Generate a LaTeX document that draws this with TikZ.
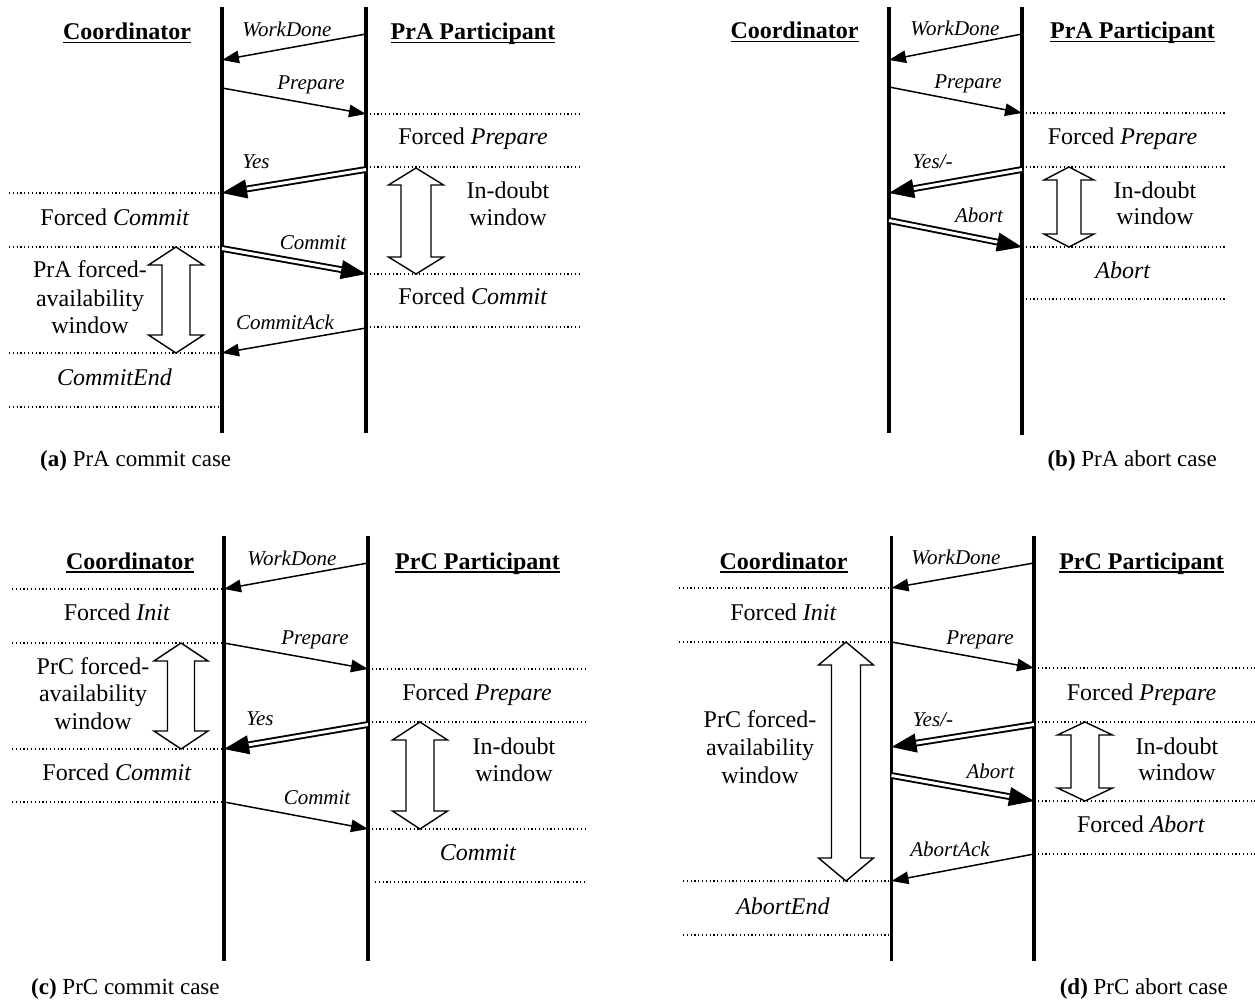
\documentclass[tikz,border=0pt]{standalone}
\usepackage{fontspec}
\setmainfont{Liberation Serif}
\usetikzlibrary{arrows.meta,calc}
\newcommand\hdrul[1]{\setbox0\hbox{#1}\rlap{\rule[-3.5pt]{\wd0}{1.8pt}}\box0}
\newcommand\blockarr[6]{\draw[blk] (#1,#2) -- (#1+#4,#2+#6) -- (#1+#5,#2+#6) -- (#1+#5,#3-#6) -- (#1+#4,#3-#6) -- (#1,#3) -- (#1-#4,#3-#6) -- (#1-#5,#3-#6) -- (#1-#5,#2+#6) -- (#1-#4,#2+#6) -- cycle;}
\newcommand\dmsg[2]{\draw[dline] (#1) -- (#2); \draw[dtip] ($(#2)!24pt!(#1)$) -- (#2);}
\begin{document}
\begin{tikzpicture}[x=1pt,y=-1pt,
  life/.style={line width=3.5pt},
  msg/.style={line width=1.5pt,-{Triangle[length=17pt,width=12.5pt]}},
  dline/.style={double, line width=1.9pt, double distance=3pt, shorten >=16pt},
  dtip/.style={line width=1pt,-{Triangle[length=25pt,width=19pt]}},
  dots/.style={line width=1.2pt, dash pattern=on 1.2pt off 2.6pt},
  blk/.style={line width=1.4pt, fill=white, line join=miter},
  lbl/.style={font=\fontsize{21}{24}\selectfont\itshape, inner sep=0pt, anchor=base},
  txt/.style={font=\fontsize{24}{28}\selectfont, inner sep=0pt, anchor=base},
  hdr/.style={font=\fontsize{24}{28}\selectfont\bfseries, inner sep=0pt, anchor=base},
  captxt/.style={font=\fontsize{23}{26}\selectfont, inner sep=0pt}]
\useasboundingbox[fill=white] (0,0) rectangle (1255,1000);

%%%%%%%%%%%%%%%% (a) PrA commit %%%%%%%%%%%%%%%%
\coordinate (a-ct) at (222,7); \coordinate (a-cb) at (222,433);
\coordinate (a-pt) at (366,7); \coordinate (a-pb) at (366,433);
\draw[life] (a-ct) -- (a-cb);
\draw[life] (a-pt) -- (a-pb);
\node[hdr] (a-hc) at (127,40) {\hdrul{Coordinator}};
\node[hdr] (a-hp) at (473,40) {\hdrul{PrA Participant}};
\draw[dots] (366,114) -- (582,114);
\draw[dots] (366,167) -- (582,167);
\draw[dots] (9,193) -- (222,193);
\draw[dots] (9,247) -- (222,247);
\draw[dots] (366,274) -- (582,274);
\draw[dots] (366,327) -- (582,327);
\draw[dots] (9,353) -- (222,353);
\draw[dots] (9,407) -- (222,407);
\coordinate (a-m1s) at (366,34);   \coordinate (a-m1e) at (222,60);
\coordinate (a-m2s) at (222,88);   \coordinate (a-m2e) at (366,114);
\coordinate (a-m3s) at (366,169.5);\coordinate (a-m3e) at (222,193);
\coordinate (a-m4s) at (222,248.5);\coordinate (a-m4e) at (366,274);
\coordinate (a-m5s) at (366,328);  \coordinate (a-m5e) at (222,353);
\draw[msg] (a-m1s) -- (a-m1e);
\draw[msg] (a-m2s) -- (a-m2e);
\dmsg{a-m3s}{a-m3e}
\dmsg{a-m4s}{a-m4e}
\draw[msg] (a-m5s) -- (a-m5e);
\node[lbl] (a-l1) at (287,37) {WorkDone};
\node[lbl] (a-l2) at (311,90) {Prepare};
\node[lbl] (a-l3) at (256,169) {Yes};
\node[lbl] (a-l4) at (313,250) {Commit};
\node[lbl] (a-l5) at (285,329) {CommitAck};
\node[txt] (a-t1) at (473,145) {Forced \textit{Prepare}};
\node[txt] (a-t2) at (115,226) {Forced \textit{Commit}};
\node[txt] (a-t3) at (473,305) {Forced \textit{Commit}};
\node[txt] (a-t4) at (114.5,385) {\textit{CommitEnd}};
\blockarr{416}{168}{274}{27.5}{15}{17}
\node[txt] (a-d1) at (508,199) {In-doubt};
\node[txt] (a-d2) at (508,226) {window};
\blockarr{176}{247}{353}{27.5}{14}{18}
\node[txt] (a-w1) at (90,278) {PrA forced-};
\node[txt] (a-w2) at (90,306) {availability};
\node[txt] (a-w3) at (90,333) {window};
\node[captxt,anchor=base west] (a-cap) at (40,466) {\textbf{(a)} PrA commit case};

%%%%%%%%%%%%%%%% (b) PrA abort %%%%%%%%%%%%%%%%
\coordinate (b-ct) at (889,7); \coordinate (b-cb) at (889,433);
\coordinate (b-pt) at (1022,7); \coordinate (b-pb) at (1022,435);
\draw[life] (b-ct) -- (b-cb);
\draw[life] (b-pt) -- (b-pb);
\node[hdr] (b-hc) at (794.5,39) {\hdrul{Coordinator}};
\node[hdr] (b-hp) at (1132.5,39) {\hdrul{PrA Participant}};
\draw[dots] (1022,113) -- (1227,113);
\draw[dots] (1022,167) -- (1227,167);
\draw[dots] (1022,247) -- (1227,247);
\draw[dots] (1022,299) -- (1227,299);
\coordinate (b-m1s) at (1022,34);   \coordinate (b-m1e) at (889,60);
\coordinate (b-m2s) at (889,87);    \coordinate (b-m2e) at (1022,113);
\coordinate (b-m3s) at (1022,169.5);\coordinate (b-m3e) at (889,193);
\coordinate (b-m4s) at (889,220.5); \coordinate (b-m4e) at (1022,247);
\draw[msg] (b-m1s) -- (b-m1e);
\draw[msg] (b-m2s) -- (b-m2e);
\dmsg{b-m3s}{b-m3e}
\dmsg{b-m4s}{b-m4e}
\node[lbl] (b-l1) at (955,36) {WorkDone};
\node[lbl] (b-l2) at (968,89) {Prepare};
\node[lbl] (b-l3) at (932.5,169) {Yes/-};
\node[lbl] (b-l4) at (979,223) {Abort};
\node[txt] (b-t1) at (1122.5,145) {Forced \textit{Prepare}};
\node[txt] (b-t2) at (1123,279) {\textit{Abort}};
\blockarr{1069}{167}{247}{25}{12}{13}
\node[txt] (b-d1) at (1155,199) {In-doubt};
\node[txt] (b-d2) at (1155,225) {window};
\node[captxt,anchor=base east] (b-cap) at (1217,466) {\textbf{(b)} PrA abort case};

%%%%%%%%%%%%%%%% (c) PrC commit %%%%%%%%%%%%%%%%
\coordinate (c-ct) at (224,536); \coordinate (c-cb) at (224,961);
\coordinate (c-pt) at (368,536); \coordinate (c-pb) at (368,961);
\draw[life] (c-ct) -- (c-cb);
\draw[life] (c-pt) -- (c-pb);
\node[hdr] (c-hc) at (130,569) {\hdrul{Coordinator}};
\node[hdr] (c-hp) at (477.5,569) {\hdrul{PrC Participant}};
\draw[dots] (12,589) -- (224,589);
\draw[dots] (12,643) -- (224,643);
\draw[dots] (368,669) -- (586,669);
\draw[dots] (368,722) -- (586,722);
\draw[dots] (12,749) -- (224,749);
\draw[dots] (12,802) -- (224,802);
\draw[dots] (368,829) -- (586,829);
\draw[dots] (375,882) -- (585,882);
\coordinate (c-m1s) at (368,563);   \coordinate (c-m1e) at (224,589);
\coordinate (c-m2s) at (224,643);   \coordinate (c-m2e) at (368,669);
\coordinate (c-m3s) at (368,724.5); \coordinate (c-m3e) at (224,749);
\coordinate (c-m4s) at (224,802);   \coordinate (c-m4e) at (368,829);
\draw[msg] (c-m1s) -- (c-m1e);
\draw[msg] (c-m2s) -- (c-m2e);
\dmsg{c-m3s}{c-m3e}
\draw[msg] (c-m4s) -- (c-m4e);
\node[lbl] (c-l1) at (292,565) {WorkDone};
\node[lbl] (c-l2) at (315,644) {Prepare};
\node[lbl] (c-l3) at (260,725) {Yes};
\node[lbl] (c-l4) at (317,804) {Commit};
\node[txt] (c-t1) at (117,620) {Forced \textit{Init}};
\node[txt] (c-t2) at (477,700) {Forced \textit{Prepare}};
\node[txt] (c-t3) at (117,780) {Forced \textit{Commit}};
\node[txt] (c-t4) at (478,860) {\textit{Commit}};
\blockarr{181}{643}{749}{27}{13.5}{18}
\node[txt] (c-w1) at (93,674) {PrC forced-};
\node[txt] (c-w2) at (93,701) {availability};
\node[txt] (c-w3) at (93,729) {window};
\blockarr{420}{722}{829}{27.5}{14}{18}
\node[txt] (c-d1) at (514,754) {In-doubt};
\node[txt] (c-d2) at (514,781) {window};
\node[captxt,anchor=base west] (c-cap) at (31,994) {\textbf{(c)} PrC commit case};

%%%%%%%%%%%%%%%% (d) PrC abort %%%%%%%%%%%%%%%%
\coordinate (d-ct) at (891.5,536); \coordinate (d-cb) at (891.5,961);
\coordinate (d-pt) at (1034,536);  \coordinate (d-pb) at (1034,961);
\draw[life] (d-ct) -- (d-cb);
\draw[life] (d-pt) -- (d-pb);
\node[hdr] (d-hc) at (783.6,569) {\hdrul{Coordinator}};
\node[hdr] (d-hp) at (1141.6,569) {\hdrul{PrC Participant}};
\draw[dots] (679,588) -- (891.5,588);
\draw[dots] (679,642) -- (891.5,642);
\draw[dots] (1034,668) -- (1255,668);
\draw[dots] (1034,722) -- (1255,722);
\draw[dots] (1034,801) -- (1255,801);
\draw[dots] (1034,854) -- (1255,854);
\draw[dots] (683,881) -- (891.5,881);
\draw[dots] (683,935) -- (891.5,935);
\coordinate (d-m1s) at (1034,563);   \coordinate (d-m1e) at (891.5,588);
\coordinate (d-m2s) at (891.5,642);  \coordinate (d-m2e) at (1034,668);
\coordinate (d-m3s) at (1034,724.5); \coordinate (d-m3e) at (891.5,747);
\coordinate (d-m4s) at (891.5,775.5);\coordinate (d-m4e) at (1034,801);
\coordinate (d-m5s) at (1034,854);   \coordinate (d-m5e) at (891.5,881);
\draw[msg] (d-m1s) -- (d-m1e);
\draw[msg] (d-m2s) -- (d-m2e);
\dmsg{d-m3s}{d-m3e}
\dmsg{d-m4s}{d-m4e}
\draw[msg] (d-m5s) -- (d-m5e);
\node[lbl] (d-l1) at (956,564) {WorkDone};
\node[lbl] (d-l2) at (980,644) {Prepare};
\node[lbl] (d-l3) at (933,726) {Yes/-};
\node[lbl] (d-l4) at (990.5,778) {Abort};
\node[lbl] (d-l5) at (950,856) {AbortAck};
\node[txt] (d-t1) at (783.5,620) {Forced \textit{Init}};
\node[txt] (d-t2) at (1141.5,700) {Forced \textit{Prepare}};
\node[txt] (d-t3) at (1141,832) {Forced \textit{Abort}};
\node[txt] (d-t4) at (783,914) {\textit{AbortEnd}};
\blockarr{1085}{722}{801}{27.5}{14}{13}
\node[txt] (d-d1) at (1177,754) {In-doubt};
\node[txt] (d-d2) at (1177,780) {window};
\blockarr{846}{642}{881}{27.5}{14.5}{23}
\node[txt] (d-w1) at (760,727) {PrC forced-};
\node[txt] (d-w2) at (760,755) {availability};
\node[txt] (d-w3) at (760,783) {window};
\node[captxt,anchor=base east] (d-cap) at (1228,994) {\textbf{(d)} PrC abort case};
\end{tikzpicture}
\end{document}
